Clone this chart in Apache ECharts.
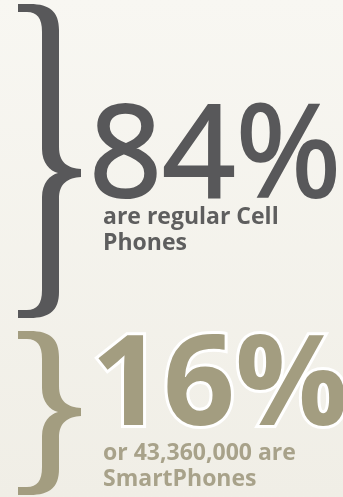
<!DOCTYPE html>
<html>
<head>
<meta charset="utf-8">
<script src="https://cdn.jsdelivr.net/npm/echarts@6/dist/echarts.min.js"></script>
<style>
html,body{margin:0;padding:0;background:#f5f3ee;}
#chart{width:343px;height:497px;}
</style>
</head>
<body>
<div id="chart"></div>
<script>
// ---- data ----
const groups = ['Regular Cell Phones', 'SmartPhones'];
const shares = [84, 16];
const captionLine1 = ['are regular Cell', 'or 43,360,000 are'];
const captionLine2 = ['Phones', 'SmartPhones'];
const groupColors = ['#58585a', '#a39d80'];
const captionColors = ['#5e5e5e', '#a8a28a'];

// ---- layout (styling, not data) ----
const LAYOUT = [
  { yTop: 4, yBot: 318, yMid: 173, numY: 161, numSize: 128, numWeight: 'normal', numX: 89, glow: false, thick: 2.2, capY1: 217, capY2: 243 },
  { yTop: 331, yBot: 495, yMid: 412, numY: 389, numSize: 126, numWeight: 'bold', numX: 91, glow: true, thick: 0, capY1: 453, capY2: 479 }
];

function bracePath(yT, yB, yM) {
  const tail = 18, xl = 42, xr = 59, tip = 81, t = 8, notch = 58;
  return [
    'M', tail, yT,
    'L', 30, yT,
    'C', 50, yT, xr, yT + 8, xr, yT + 26,
    'L', xr, yM - 26,
    'C', xr, yM - 10, 68, yM - 5, tip, yM - 4,
    'L', tip, yM + 4,
    'C', 68, yM + 5, xr, yM + 10, xr, yM + 26,
    'L', xr, yB - 26,
    'C', xr, yB - 8, 50, yB, 30, yB,
    'L', tail, yB,
    'L', tail, yB - t,
    'L', 27, yB - t,
    'C', 37, yB - t, xl, yB - 14, xl, yB - 28,
    'L', xl, yM + 24,
    'C', xl, yM + 10, 50, yM + 2, notch, yM,
    'C', 50, yM - 2, xl, yM - 10, xl, yM - 24,
    'L', xl, yT + 28,
    'C', xl, yT + 14, 37, yT + t, 27, yT + t,
    'L', tail, yT + t,
    'Z'
  ].join(' ');
}

const chart = echarts.init(document.getElementById('chart'), null, { renderer: 'canvas' });

chart.setOption({
  backgroundColor: {
    type: 'linear', x: 0, y: 0, x2: 0, y2: 1,
    colorStops: [{ offset: 0, color: '#f8f7f2' }, { offset: 1, color: '#f0eee6' }]
  },
  animation: false,
  series: [{
    type: 'custom',
    coordinateSystem: 'none',
    data: shares.map((v, i) => ({ name: groups[i], value: [v] })),
    renderItem: function (params, api) {
      const i = params.dataIndex;
      const L = LAYOUT[i];
      const val = api.value(0);
      const col = groupColors[i];
      const children = [
        {
          type: 'path',
          shape: { pathData: bracePath(L.yTop, L.yBot, L.yMid) },
          style: { fill: col }
        },
        {
          type: 'text',
          x: L.numX, y: L.numY,
          style: {
            text: val + '%',
            fill: col,
            font: L.numWeight + ' ' + L.numSize + 'px "Open Sans"',
            verticalAlign: 'middle',
            align: 'left',
            stroke: L.glow ? '#ffffff' : (L.thick ? col : null),
            lineWidth: L.glow ? 6 : L.thick
          }
        },
        {
          type: 'text',
          x: 103, y: L.capY1,
          style: {
            text: captionLine1[i],
            fill: captionColors[i],
            font: 'bold 23px "Open Sans"',
            verticalAlign: 'middle', align: 'left'
          }
        },
        {
          type: 'text',
          x: 103, y: L.capY2,
          style: {
            text: captionLine2[i],
            fill: captionColors[i],
            font: 'bold 23px "Open Sans"',
            verticalAlign: 'middle', align: 'left'
          }
        }
      ];
      return { type: 'group', children: children };
    }
  }]
});
</script>
</body>
</html>
